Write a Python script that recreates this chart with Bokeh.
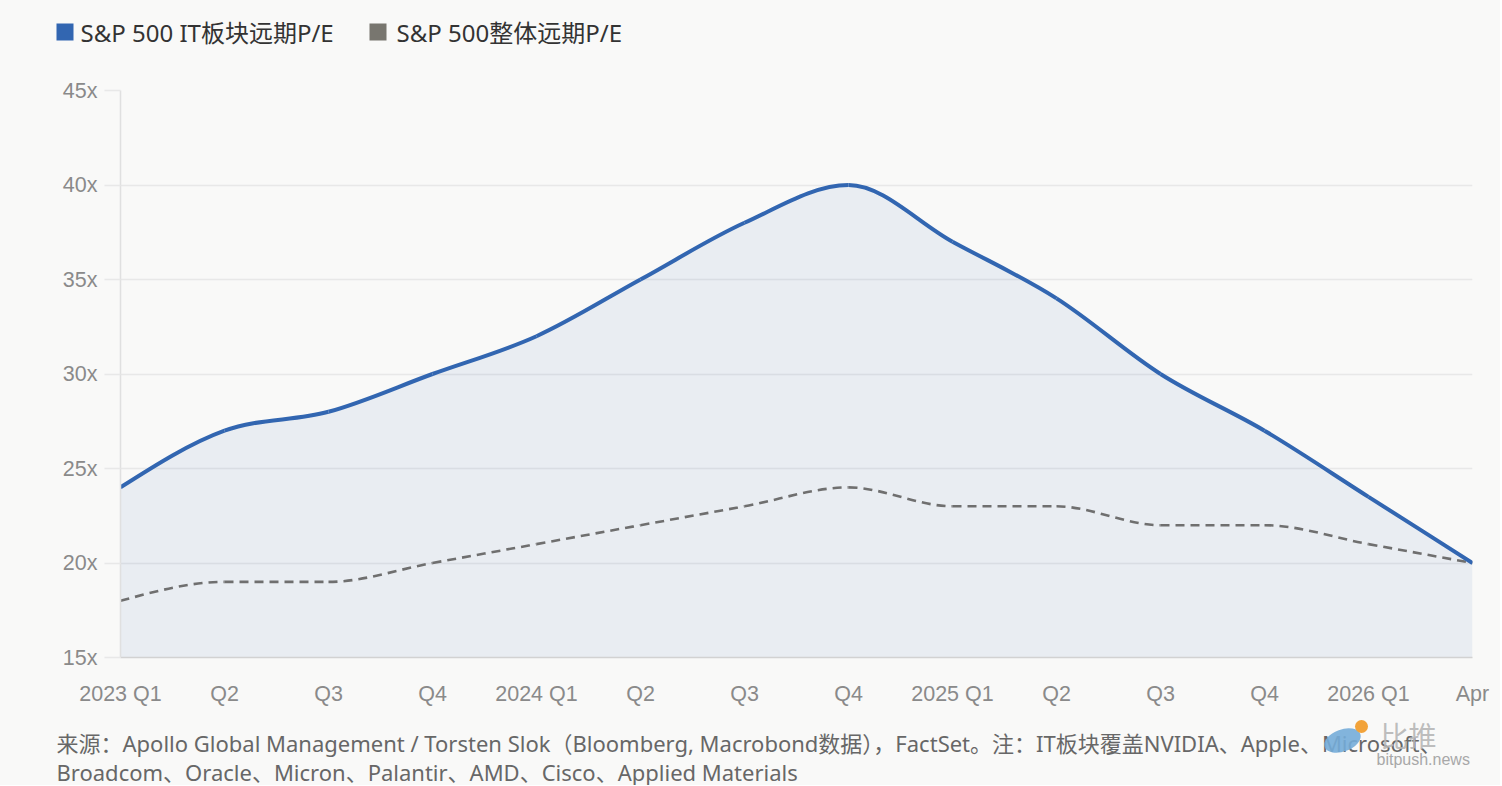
import numpy as np
from bokeh.plotting import figure
from bokeh.layouts import column
from bokeh.models import Range1d, FixedTicker, ColumnDataSource
from bokeh.core.properties import value
from bokeh.embed import file_html
from bokeh.resources import INLINE

# ---- data ----
quarters = ["2023 Q1", "Q2", "Q3", "Q4", "2024 Q1", "Q2", "Q3", "Q4",
            "2025 Q1", "Q2", "Q3", "Q4", "2026 Q1", "Apr"]
it_pe = [24, 27, 28, 30, 32, 35, 38, 40, 37, 34, 30, 27, 23.5, 20]
sp_pe = [18, 19, 19, 20, 21, 22, 23, 24, 23, 23, 22, 22, 21, 20]
y_ticks = [15, 20, 25, 30, 35, 40, 45]
y_tick_labels = ["15x", "20x", "25x", "30x", "35x", "40x", "45x"]
legend_labels = ["S&P 500 IT板块远期P/E", "S&P 500整体远期P/E"]
note_1 = "来源：Apollo Global Management / Torsten Slok（Bloomberg, Macrobond数据），FactSet。注：IT板块覆盖NVIDIA、Apple、Microsoft、"
note_2 = "Broadcom、Oracle、Micron、Palantir、AMD、Cisco、Applied Materials"

BLUE = "#3266b1"
GRAY = "#6f6f6f"
LEG_GRAY = "#78766f"
BG = "#f9f9f8"
FONT = "Noto Sans, Noto Sans CJK SC"
TICK_FONT = "Liberation Sans"

W = 1500
xs = np.arange(len(quarters), dtype=float)


def monotone(xv, yv):
    """Bezier control points of a monotone-x cubic (as d3.curveMonotoneX)."""
    xv = np.asarray(xv, float)
    yv = np.asarray(yv, float)
    n = len(xv)
    h = np.diff(xv)
    s = np.diff(yv) / h
    t = np.zeros(n)
    for i in range(1, n - 1):
        p_ = (s[i - 1] * h[i] + s[i] * h[i - 1]) / (h[i - 1] + h[i])
        t[i] = (np.sign(s[i - 1]) + np.sign(s[i])) * min(abs(s[i - 1]), abs(s[i]), 0.5 * abs(p_))
    t[0] = (3 * s[0] - t[1]) / 2
    t[-1] = (3 * s[-1] - t[-2]) / 2
    dx = h / 3
    return dict(x0=xv[:-1], y0=yv[:-1], x1=xv[1:], y1=yv[1:],
                cx0=xv[:-1] + dx, cy0=yv[:-1] + dx * t[:-1],
                cx1=xv[1:] - dx, cy1=yv[1:] - dx * t[1:])


def sample(seg, k=40):
    px, py = [], []
    tt = np.linspace(0, 1, k)
    a = (1 - tt) ** 3
    b = 3 * (1 - tt) ** 2 * tt
    c = 3 * (1 - tt) * tt ** 2
    d = tt ** 3
    for i in range(len(seg["x0"])):
        px.extend(a * seg["x0"][i] + b * seg["cx0"][i] + c * seg["cx1"][i] + d * seg["x1"][i])
        py.extend(a * seg["y0"][i] + b * seg["cy0"][i] + c * seg["cy1"][i] + d * seg["y1"][i])
    return np.array(px), np.array(py)


def blank(height):
    f = figure(width=W, height=height, output_backend="svg", toolbar_location=None,
               x_range=Range1d(0, W), y_range=Range1d(height, 0),
               x_axis_type=None, y_axis_type=None, min_border=0, frame_align=False,
               background_fill_color=BG, border_fill_color=BG, outline_line_color=None)
    f.xgrid.visible = False
    f.ygrid.visible = False
    return f


# ---------- legend strip ----------
LH = 62
leg = blank(LH)
leg.rect(x=[64.5, 377.5], y=[31.5, 31.5], width=17, height=17,
         fill_color=[BLUE, LEG_GRAY], line_color=None)
leg.text(x=[80, 396], y=[31.5, 31.5], text=legend_labels, text_font=value(FONT),
         text_font_size="24px", text_color="#333333", text_baseline="middle", text_align="left")

# ---------- main chart ----------
MH = 648
seg_it = monotone(xs, it_pe)
seg_sp = monotone(xs, sp_pe)
fx, fy = sample(seg_it)

p = figure(width=W, height=MH, output_backend="svg", toolbar_location=None,
           x_range=Range1d(0, len(quarters) - 1), y_range=Range1d(15, 45),
           min_border_left=120, min_border_right=W - 1472, min_border_top=90 - LH,
           min_border_bottom=LH + MH - 657, frame_align=False,
           background_fill_color=BG, border_fill_color=BG, outline_line_color=None)

p.varea(x=fx, y1=15, y2=fy, fill_color=BLUE, fill_alpha=0.08)
p.bezier(source=ColumnDataSource(seg_sp), x0="x0", y0="y0", x1="x1", y1="y1",
         cx0="cx0", cy0="cy0", cx1="cx1", cy1="cy1",
         line_color=GRAY, line_width=2.6, line_dash="9 6")
p.bezier(source=ColumnDataSource(seg_it), x0="x0", y0="y0", x1="x1", y1="y1",
         cx0="cx0", cy0="cy0", cx1="cx1", cy1="cy1",
         line_color=BLUE, line_width=4)

p.xgrid.grid_line_color = None
p.ygrid.grid_line_color = "#e8e8e8"
p.ygrid.grid_line_width = 1.5
p.ygrid.ticker = FixedTicker(ticks=y_ticks)

p.yaxis.ticker = FixedTicker(ticks=y_ticks)
p.yaxis.major_label_overrides = {t: l for t, l in zip(y_ticks, y_tick_labels)}
p.yaxis.axis_line_color = "#e0e0e0"
p.yaxis.axis_line_width = 1.5
p.yaxis.major_tick_out = 16
p.yaxis.major_tick_in = 0
p.yaxis.major_tick_line_color = "#e8e8e8"
p.yaxis.major_tick_line_width = 1.5
p.yaxis.minor_tick_line_color = None
p.yaxis.major_label_standoff = 7
p.yaxis.major_label_text_font = TICK_FONT
p.yaxis.major_label_text_font_size = "21.5px"
p.yaxis.major_label_text_color = "#8a8a8a"

p.xaxis.ticker = FixedTicker(ticks=list(xs))
p.xaxis.major_label_overrides = {float(i): q for i, q in zip(xs, quarters)}
p.xaxis.axis_line_color = "#d2d2d2"
p.xaxis.axis_line_width = 1.5
p.xaxis.major_tick_out = 0
p.xaxis.major_tick_in = 0
p.xaxis.minor_tick_line_color = None
p.xaxis.major_label_standoff = 24
p.xaxis.major_label_text_font = TICK_FONT
p.xaxis.major_label_text_font_size = "21.5px"
p.xaxis.major_label_text_color = "#8a8a8a"

# ---------- footnote strip ----------
FH = 75
top = LH + MH
foot = blank(FH)
foot.text(x=[56, 56], y=[742 - top, 771 - top], text=[note_1, note_2], text_font=value(FONT),
          text_font_size="22px", text_color="#676767", text_baseline="middle", text_align="left")
# watermark (logo + site name)
foot.ellipse(x=[1342], y=[740 - top], width=[38], height=[22], angle=0.35,
             fill_color="#74acd8", line_color=None, fill_alpha=0.9)
foot.scatter(x=[1361], y=[726 - top], size=13, fill_color="#f2a33a", line_color=None)
foot.text(x=[1380], y=[734 - top], text=["比推"], text_font=value("Noto Sans CJK SC"),
          text_font_size="28px", text_color="#b5b5b5", text_alpha=0.9,
          text_baseline="middle", text_align="left")
foot.text(x=[1376], y=[759 - top], text=["bitpush.news"], text_font=value(TICK_FONT),
          text_font_size="16px", text_color="#a8a8a8", text_baseline="middle", text_align="left")

layout = column(leg, p, foot, spacing=0, styles={"background-color": BG})
open("out.html", "w").write(file_html(layout, INLINE))
